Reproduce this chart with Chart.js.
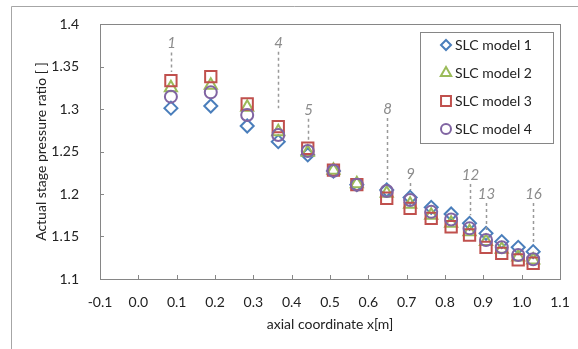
<!DOCTYPE html>
<html>
<head>
<meta charset="utf-8">
<script src="https://cdn.jsdelivr.net/npm/chart.js@4/dist/chart.umd.min.js"></script>
<style>
  html, body { margin: 0; padding: 0; background: #fff; }
</style>
</head>
<body>
<canvas id="stage-chart" width="578" height="349"></canvas>
<script>
// axial position of each stage [m]
const xPos = [0.085, 0.189, 0.284, 0.365, 0.442, 0.509, 0.570, 0.648, 0.709, 0.764, 0.816, 0.864, 0.907, 0.948, 0.991, 1.030];

// actual stage pressure ratio per model
const model1 = [1.301, 1.3035, 1.280, 1.2616, 1.246, 1.227, 1.211, 1.2047, 1.196, 1.1843, 1.1765, 1.1655, 1.1537, 1.144, 1.1373, 1.1322];
const model2 = [1.325, 1.328, 1.302, 1.2733, 1.249, 1.228, 1.212, 1.2008, 1.188, 1.175, 1.1655, 1.1557, 1.144, 1.135, 1.126, 1.1224];
const model3 = [1.3333, 1.338, 1.3059, 1.2792, 1.2538, 1.228, 1.211, 1.195, 1.183, 1.1714, 1.1615, 1.1518, 1.1373, 1.1302, 1.1224, 1.1185];
const model4 = [1.3145, 1.3196, 1.293, 1.2694, 1.2506, 1.2274, 1.211, 1.2035, 1.193, 1.179, 1.170, 1.1596, 1.1459, 1.1373, 1.1282, 1.1232];

const seriesNames = ['SLC model 1', 'SLC model 2', 'SLC model 3', 'SLC model 4'];

// stage number call-outs: label height and bottom of dashed line (y units)
const annotStage = [1, 4, 5, 8, 9, 12, 13, 16];
const annotLabelY = [1.377, 1.378, 1.299, 1.300, 1.2235, 1.2224, 1.200, 1.200];
const annotLineEnd = [1.3435, 1.301, 1.2635, 1.2165, 1.2047, 1.175, 1.1576, 1.1424];

const FONT = 'Lato, "Liberation Sans", sans-serif';

function toPoints(ys) {
    return xPos.map((x, i) => ({ x: x, y: ys[i] }));
}

function marker(ctx, style, x, y, r) {
    ctx.beginPath();
    if (style === 'rectRot') {
        ctx.moveTo(x, y - r); ctx.lineTo(x + r, y); ctx.lineTo(x, y + r); ctx.lineTo(x - r, y); ctx.closePath();
    } else if (style === 'triangle') {
        const w = r * Math.sqrt(3) / 2;
        ctx.moveTo(x, y - r); ctx.lineTo(x + w, y + r / 2); ctx.lineTo(x - w, y + r / 2); ctx.closePath();
    } else if (style === 'rect') {
        const s = r * Math.SQRT1_2;
        ctx.rect(x - s, y - s, 2 * s, 2 * s);
    } else {
        ctx.arc(x, y, r, 0, Math.PI * 2);
    }
    ctx.stroke();
}

// frame, inner tick marks, call-outs and legend box
const decorations = {
    id: 'decorations',
    beforeDraw(chart) {
        const ctx = chart.ctx;
        ctx.save();
        ctx.fillStyle = '#fff';
        ctx.fillRect(0, 0, chart.width, chart.height);
        ctx.strokeStyle = '#a6a6a6';
        ctx.lineWidth = 1;
        ctx.beginPath();
        ctx.moveTo(11.5, chart.height);
        ctx.lineTo(11.5, 6.5);
        ctx.lineTo(chart.width, 6.5);
        ctx.stroke();
        ctx.restore();
    },
    afterDatasetsDraw(chart) {
        const ctx = chart.ctx;
        const a = chart.chartArea;
        const xs = chart.scales.x, ys = chart.scales.y;
        ctx.save();

        // plot frame
        ctx.strokeStyle = '#868686';
        ctx.lineWidth = 1;
        ctx.strokeRect(Math.round(a.left) + 0.5, Math.round(a.top) + 0.5,
            Math.round(a.right - a.left), Math.round(a.bottom - a.top));

        // tick marks pointing inward
        ctx.beginPath();
        xs.ticks.forEach(t => {
            const px = Math.round(xs.getPixelForValue(t.value)) + 0.5;
            ctx.moveTo(px, a.bottom);
            ctx.lineTo(px, a.bottom - 4);
        });
        ys.ticks.forEach(t => {
            const py = Math.round(ys.getPixelForValue(t.value)) + 0.5;
            ctx.moveTo(a.left, py);
            ctx.lineTo(a.left + 4, py);
        });
        ctx.stroke();

        // stage call-outs
        ctx.strokeStyle = '#999';
        ctx.fillStyle = '#8c8c8c';
        ctx.lineWidth = 1.5;
        ctx.setLineDash([3, 3]);
        ctx.font = 'italic 15px ' + FONT;
        ctx.textAlign = 'center';
        ctx.textBaseline = 'middle';
        annotStage.forEach((s, i) => {
            const px = Math.round(xs.getPixelForValue(xPos[s - 1])) + 0.5;
            const ly = ys.getPixelForValue(annotLabelY[i]);
            const ey = ys.getPixelForValue(annotLineEnd[i]);
            ctx.beginPath();
            ctx.moveTo(px, ly + 9);
            ctx.lineTo(px, ey);
            ctx.stroke();
            ctx.fillText(String(s), px, ly);
        });
        ctx.setLineDash([]);

        // legend
        ctx.fillStyle = '#fff';
        ctx.fillRect(420, 32, 133, 111);
        ctx.strokeStyle = '#868686';
        ctx.lineWidth = 1;
        ctx.strokeRect(420.5, 32.5, 133, 111);
        ctx.font = '14px ' + FONT;
        ctx.textAlign = 'left';
        ctx.fillStyle = '#222';
        chart.data.datasets.forEach((ds, i) => {
            const ry = 45 + i * 28;
            ctx.strokeStyle = ds.borderColor;
            ctx.lineWidth = 2;
            marker(ctx, ds.pointStyle, 446, ry, ds.legendRadius);
            ctx.fillText(ds.label, 455, ry);
        });
        ctx.restore();
    }
};

const ctx = document.getElementById('stage-chart').getContext('2d');

const stageChart = new Chart(ctx, {
    type: 'scatter',
    data: {
        datasets: [
            {
                label: seriesNames[0],
                data: toPoints(model1),
                pointStyle: 'rectRot',
                pointRadius: 6.5,
                legendRadius: 5,
                borderColor: '#4a7ebb',
                backgroundColor: 'rgba(0,0,0,0)',
                borderWidth: 2,
                order: 4
            },
            {
                label: seriesNames[1],
                data: toPoints(model2),
                pointStyle: 'triangle',
                pointRadius: 7,
                legendRadius: 6,
                borderColor: '#9bbb59',
                backgroundColor: 'rgba(0,0,0,0)',
                borderWidth: 2,
                order: 3
            },
            {
                label: seriesNames[2],
                data: toPoints(model3),
                pointStyle: 'rect',
                pointRadius: 8,
                legendRadius: 7,
                borderColor: '#c0504d',
                backgroundColor: 'rgba(0,0,0,0)',
                borderWidth: 2,
                order: 2
            },
            {
                label: seriesNames[3],
                data: toPoints(model4),
                pointStyle: 'circle',
                pointRadius: 6,
                legendRadius: 5,
                borderColor: '#8064a2',
                backgroundColor: 'rgba(0,0,0,0)',
                borderWidth: 2,
                order: 1
            }
        ]
    },
    options: {
        responsive: false,
        animation: false,
        devicePixelRatio: 1,
        layout: {
            padding: { left: 33, right: 18, top: 24, bottom: 16 }
        },
        plugins: {
            legend: { display: false },
            tooltip: { enabled: false }
        },
        scales: {
            x: {
                type: 'linear',
                min: -0.1,
                max: 1.1,
                grid: { display: false },
                border: { display: false },
                ticks: {
                    stepSize: 0.1,
                    padding: 7,
                    color: '#222',
                    font: { family: FONT, size: 14 },
                    maxRotation: 0,
                    callback: v => (Math.abs(v) < 1e-9 ? 0 : v).toFixed(1)
                },
                title: {
                    display: true,
                    text: 'axial coordinate x[m]',
                    color: '#222',
                    font: { family: FONT, size: 14 },
                    padding: 0
                },
                afterFit(scale) { scale.height = 54; }
            },
            y: {
                type: 'linear',
                min: 1.1,
                max: 1.4,
                grid: { display: false },
                border: { display: false },
                ticks: {
                    stepSize: 0.05,
                    padding: 13,
                    color: '#222',
                    font: { family: FONT, size: 14 },
                    callback: v => String(parseFloat(v.toFixed(2)))
                },
                title: {
                    display: true,
                    text: 'Actual stage pressure ratio [ ]',
                    color: '#222',
                    font: { family: FONT, size: 14 },
                    padding: 0
                },
                afterFit(scale) { scale.width = 67; }
            }
        }
    },
    plugins: [decorations]
});
</script>
</body>
</html>
